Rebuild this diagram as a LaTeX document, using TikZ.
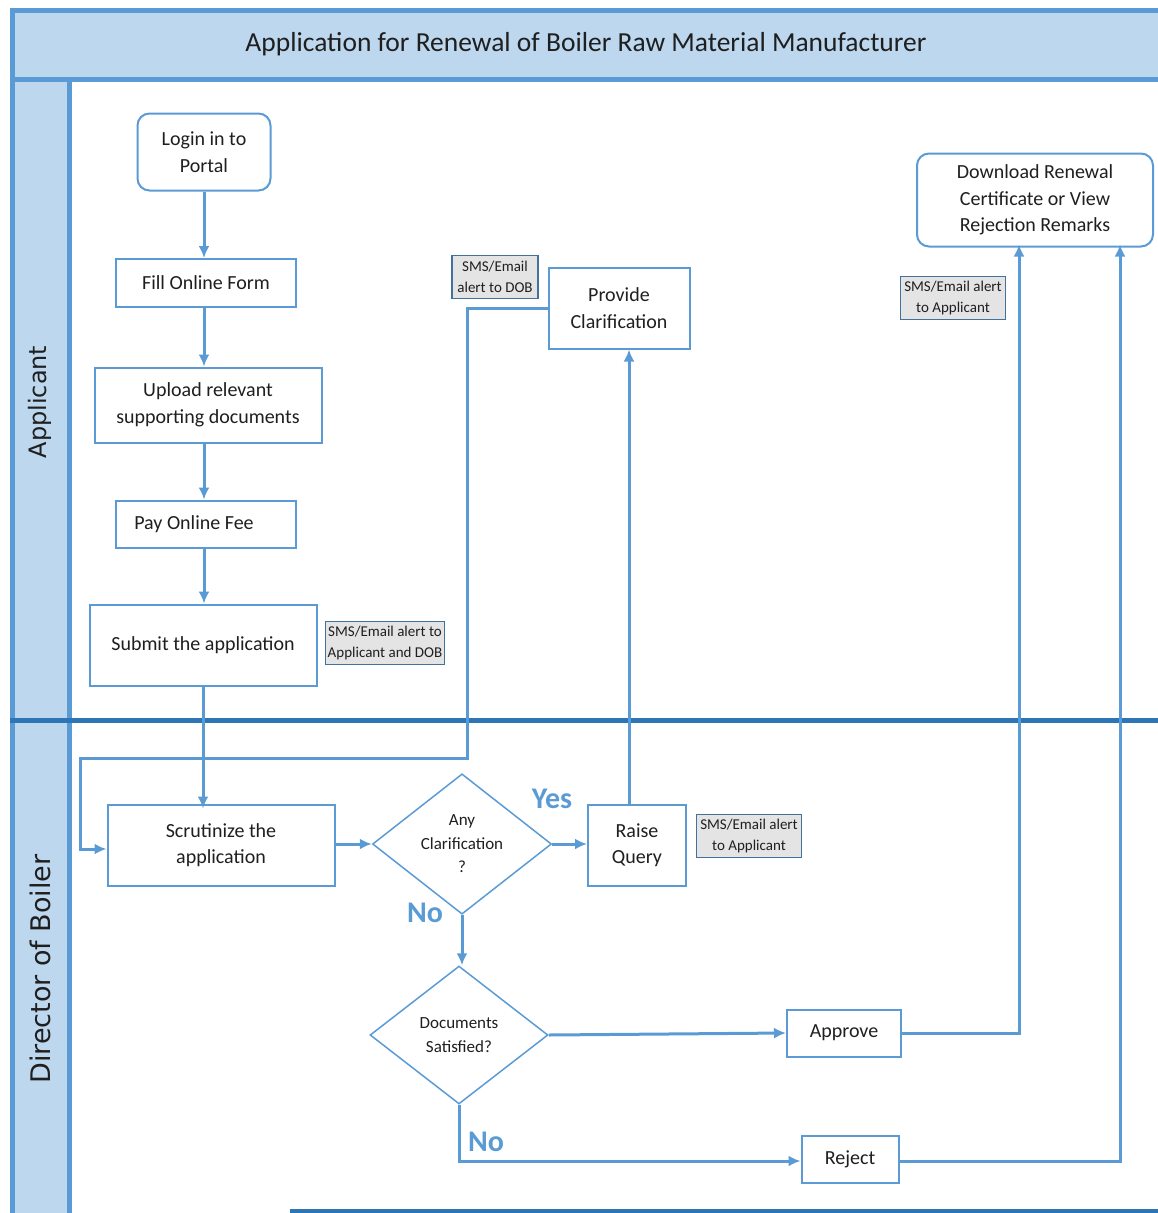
\documentclass[tikz,border=0pt]{standalone}
\usepackage{fontspec}
\setmainfont{Carlito}
\newfontfamily\lanefont{DejaVu Sans}
\usetikzlibrary{arrows.meta,shapes.geometric}
\definecolor{lanefill}{HTML}{BDD7EE}
\definecolor{laneline}{HTML}{5B9BD5}
\definecolor{lanedark}{HTML}{2E75B6}
\definecolor{notefill}{HTML}{E4E4E4}
\definecolor{noteline}{HTML}{41719C}
\definecolor{txt}{HTML}{1F1F1F}
\tikzset{
  >={Latex[length=12pt,width=11pt]},
}
\tikzstyle{lane}=[line width=5pt,draw=laneline]
\tikzstyle{lanelabel}=[text=txt,rotate=90]
\tikzstyle{taskbox}=[draw=laneline,line width=2pt,fill=white,text=txt,align=center,inner sep=0pt,font=\fontsize{20}{26.5}\selectfont]
\tikzstyle{startbox}=[taskbox,rounded corners=12pt]
\tikzstyle{decision}=[diamond,draw=laneline,line width=1.5pt,fill=white,text=txt,align=center,inner sep=0pt,font=\fontsize{17}{23.5}\selectfont]
\tikzstyle{alert}=[draw=noteline,line width=1.5pt,fill=notefill,text=txt,align=center,inner sep=0pt,font=\fontsize{15}{21}\selectfont]
\tikzstyle{flow}=[line width=3pt,draw=laneline,->]
\tikzstyle{answer}=[text=laneline,font=\fontsize{30}{30}\selectfont\bfseries]

\begin{document}
\begin{tikzpicture}[x=1pt,y=-1pt]
        \useasboundingbox (0,0) rectangle (1158,1213);
        % pool and lanes
        \fill[lanefill] (12,10) rectangle (1160,79);
        \fill[lanefill] (12,79) rectangle (69,1215);
        \draw[lane] (1160,10) -- (12,10) -- (12,1215);
        \draw[lane] (12,79) -- (1160,79);
        \draw[lane] (69,79) -- (69,1215);
        \draw[line width=5pt,lanedark] (10,720) -- (1160,720);
        \draw[line width=4pt,lanedark] (290,1211) -- (1160,1211);
        \node[text=txt,font=\fontsize{27.5}{27.5}\selectfont] (title) at (586,44) {Application for Renewal of Boiler Raw Material Manufacturer};
        \node[lanelabel,font=\lanefont\fontsize{24}{24}\selectfont] (applicant) at (40,402) {Applicant};
        \node[lanelabel,font=\lanefont\fontsize{27}{27}\selectfont] (director) at (40,969) {Director of Boiler};

        % applicant lane
        \node[startbox,minimum width=133pt,minimum height=77pt] (login) at (204,152) {Login in to\\Portal};
        \node[taskbox,minimum width=180pt,minimum height=48pt] (fill) at (206,283) {Fill Online Form};
        \node[taskbox,minimum width=227pt,minimum height=75pt] (upload) at (208,405) {Upload relevant\\supporting documents};
        \node[taskbox,minimum width=180pt,minimum height=47pt] (pay) at (206,524) {\hspace{-24pt}Pay Online Fee};
        \node[taskbox,minimum width=227pt,minimum height=81pt] (submit) at (203,645) {Submit the application};
        \node[alert,minimum width=119pt,minimum height=43pt] (alertsubmit) at (385,643) {SMS/Email alert to\\Applicant and DOB};
        \node[taskbox,minimum width=141pt,minimum height=81pt] (clarify) at (619,308) {Provide\\Clarification};
        \node[alert,minimum width=86pt,minimum height=43pt] (alertdob) at (495,277) {SMS/Email\\alert to DOB};
        \node[startbox,minimum width=236pt,minimum height=93pt] (download) at (1035,200) {Download Renewal\\Certificate or View\\Rejection Remarks};
        \node[alert,minimum width=105pt,minimum height=43pt] (alertdone) at (953,298) {SMS/Email alert\\to Applicant};

        % director lane
        \node[taskbox,minimum width=227pt,minimum height=81pt] (scrutinize) at (221,845) {Scrutinize the\\application};
        \node[decision,minimum width=179pt,minimum height=138pt] (anyq) at (462,844) {Any\\Clarification\\?};
        \node[taskbox,minimum width=98pt,minimum height=81pt] (query) at (637,845) {Raise\\Query};
        \node[alert,minimum width=105pt,minimum height=43pt] (alertquery) at (749,836) {SMS/Email alert\\to Applicant};
        \node[decision,minimum width=178pt,minimum height=138pt] (docs) at (459,1035) {Documents\\Satisfied?};
        \node[taskbox,minimum width=114pt,minimum height=47pt] (approve) at (844,1033) {Approve};
        \node[taskbox,minimum width=97pt,minimum height=47pt] (reject) at (850,1159) {Reject};

        % connectors
        \coordinate (loopa) at (467,758);
        \coordinate (loopb) at (80,758);
        \draw[flow] (login.south) -- (login.south |- fill.north);
        \draw[flow] (login.south |- fill.south) -- (login.south |- upload.north);
        \draw[flow] (login.south |- upload.south) -- (login.south |- pay.north);
        \draw[flow] (login.south |- pay.south) -- (login.south |- submit.north);
        \draw[flow] (submit.south) -- ([yshift=-5pt]submit.south |- scrutinize.north);
        \draw[flow] (clarify.west) -| (loopa) -- (loopb) |- ([yshift=-4pt]scrutinize.west);
        \draw[flow] (scrutinize.east |- anyq.west) -- (anyq.west);
        \draw[flow] (anyq.east) -- (anyq.east -| query.west);
        \node[answer] (yes) at (552,799) {Yes};
        \draw[flow] ([xshift=-8pt]query.north) -- ([xshift=-8pt]query.north |- clarify.south);
        \draw[flow] (anyq.south) -- (anyq.south |- docs.north);
        \node[answer] (noclar) at (425,913) {No};
        \draw[flow] (docs.east) -- (approve.west);
        \draw[flow] (docs.south) |- ([yshift=-2pt]reject.west);
        \node[answer] (nodocs) at (486,1142) {No};
        \draw[flow] (approve.east) -| ([xshift=-16pt,yshift=3pt]download.south);
        \draw[flow] ([yshift=-2pt]reject.east) -| ([xshift=85pt,yshift=3pt]download.south);
      \end{tikzpicture}
\end{document}
